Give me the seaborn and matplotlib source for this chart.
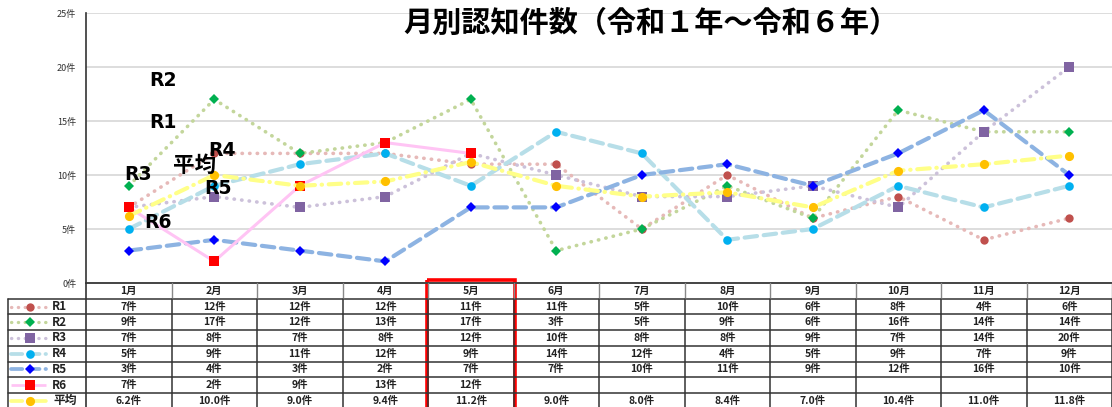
import matplotlib
matplotlib.use('Agg')

import matplotlib.pyplot as plt
import seaborn as sns
import pandas as pd
from matplotlib.lines import Line2D
from matplotlib.patches import Rectangle

months = ['1月', '2月', '3月', '4月', '5月', '6月', '7月', '8月', '9月', '10月', '11月', '12月']
r1 = [7, 12, 12, 12, 11, 11, 5, 10, 6, 8, 4, 6]
r2 = [9, 17, 12, 13, 17, 3, 5, 9, 6, 16, 14, 14]
r3 = [7, 8, 7, 8, 12, 10, 8, 8, 9, 7, 14, 20]
r4 = [5, 9, 11, 12, 9, 14, 12, 4, 5, 9, 7, 9]
r5 = [3, 4, 3, 2, 7, 7, 10, 11, 9, 12, 16, 10]
r6 = [7, 2, 9, 13, 12]
avg = [6.2, 10.0, 9.0, 9.4, 11.2, 9.0, 8.0, 8.4, 7.0, 10.4, 11.0, 11.8]
yticks = [0, 5, 10, 15, 20, 25]
title = '月別認知件数（令和１年～令和６年）'

names = ['R1', 'R2', 'R3', 'R4', 'R5', 'R6', '平均']
values = [r1, r2, r3, r4, r5, r6, avg]

# look of every series: line colour, marker colour, marker, dashes, line width, marker size
styles = {
    'R1': dict(lc='#e6b9b8', mc='#c0504d', m='o', ls=(0, (0.1, 2.0)), lw=2.6, ms=6.0),
    'R2': dict(lc='#c3d69b', mc='#00b050', m='D', ls=(0, (0.1, 2.0)), lw=2.6, ms=4.6),
    'R3': dict(lc='#ccc1da', mc='#8064a2', m='s', ls=(0, (0.1, 2.0)), lw=2.6, ms=6.6),
    'R4': dict(lc='#b7dee8', mc='#00b0f0', m='o', ls=(0, (3.0, 1.6)), lw=3.0, ms=6.2),
    'R5': dict(lc='#8db3e2', mc='#0000ff', m='D', ls=(0, (3.0, 1.6)), lw=3.0, ms=4.6),
    'R6': dict(lc='#ffc4f4', mc='#ff0000', m='s', ls='-', lw=2.2, ms=6.6),
    '平均': dict(lc='#ffff88', mc='#ffc000', m='o', ls=(0, (3.0, 1.6, 0.1, 1.6)), lw=3.0, ms=6.6),
}

sns.set_style('white')
plt.rcParams['font.family'] = ['Noto Sans CJK JP', 'DejaVu Sans']

W, H = 1112, 407
fig = plt.figure(figsize=(W / 100, H / 100), dpi=100)

# plot area in pixels
px0, px1 = 86, 1112
py_top, py_bot = 13, 283
ax = fig.add_axes([px0 / W, 1 - py_bot / H, (px1 - px0) / W, (py_bot - py_top) / H])

for name, vals in zip(names, values):
    st = styles[name]
    df = pd.DataFrame({'x': range(len(vals)), 'y': vals})
    sns.lineplot(data=df, x='x', y='y', ax=ax, color=st['lc'], linewidth=st['lw'],
                 linestyle=st['ls'], dash_capstyle='round', solid_capstyle='round',
                 marker=st['m'], markersize=st['ms'], markerfacecolor=st['mc'],
                 markeredgecolor=st['mc'], markeredgewidth=0, estimator=None,
                 sort=False, legend=False)

ax.set_xlim(-0.5, len(months) - 0.5)
ax.set_ylim(0, 25)
ax.set_yticks(yticks)
ax.set_yticklabels(['{}件'.format(v) for v in yticks], fontsize=6.5, color='#333333')
ax.set_xticks([])
ax.set_xlabel('')
ax.set_ylabel('')
ax.tick_params(axis='y', length=0, pad=7)
ax.yaxis.grid(True, color='#dddddd', linewidth=1.4)
ax.set_axisbelow(True)
for s in ['top', 'right', 'bottom']:
    ax.spines[s].set_visible(False)
ax.spines['left'].set_color('#333333')
ax.spines['left'].set_linewidth(1.2)

# overlay in pixel coordinates for the table, labels and title
ov = fig.add_axes([0, 0, 1, 1])
ov.set_xlim(0, W)
ov.set_ylim(H, 0)
ov.axis('off')

fig.text(651 / W, 1 - 23 / H, title, ha='center', va='center', fontsize=21,
         fontweight='bold', color='black')

# series labels inside the chart
label_pos = {'R2': (163, 80), 'R1': (163, 122), 'R4': (222, 151), '平均': (195, 165),
             'R3': (138, 175), 'R5': (218, 188), 'R6': (158, 222)}
for name in names:
    x, y = label_pos[name]
    if name == '平均':
        ov.text(x, y, name, ha='center', va='center', fontsize=15.5, fontweight='bold',
                color='black', family=['Noto Sans CJK JP'])
    else:
        ov.text(x, y, name, ha='center', va='center', fontsize=13.5, fontweight='bold',
                color='black', family=['DejaVu Sans'])

# data table
col_w = (px1 - px0) / len(months)
row_h = 15.7
tl = 8
n_rows = len(names)
bottom = py_bot + row_h * (n_rows + 1)

# header row
for i, m in enumerate(months):
    cx = px0 + col_w * (i + 0.5)
    ov.text(cx, py_bot + row_h / 2, m, ha='center', va='center', fontsize=7.5,
            fontweight='bold', color='#222222')
ov.plot([px0, px1], [py_bot, py_bot], color='#444444', lw=1.4)

for r, (name, vals) in enumerate(zip(names, values)):
    cy = py_bot + row_h * (r + 1.5)
    st = styles[name]
    for i in range(len(months)):
        if i < len(vals):
            v = vals[i]
            txt = '{:.1f}件'.format(v) if name == '平均' else '{}件'.format(v)
            ov.text(px0 + col_w * (i + 0.5), cy, txt, ha='center', va='center',
                    fontsize=7.5, fontweight='bold', color='#222222')
    # legend key
    ov.add_line(Line2D([11, 46], [cy, cy], color=st['lc'], lw=st['lw'] * 0.9,
                       linestyle=st['ls'], dash_capstyle='round', solid_capstyle='butt'))
    ov.add_line(Line2D([30], [cy], marker=st['m'], markersize=st['ms'], color=st['mc'],
                       markeredgewidth=0, linestyle='none'))
    ov.text(52 if name != '平均' else 54, cy, name, ha='left', va='center', fontsize=8.5,
            fontweight='bold', color='#222222')

# grid lines of the table
for r in range(1, n_rows + 2):
    y = py_bot + row_h * r
    ov.plot([tl, px1], [y, y], color='#333333', lw=1.1)
ov.plot([tl, tl], [py_bot + row_h, bottom], color='#333333', lw=1.1)
ov.plot([px0, px0], [py_bot, bottom], color='#333333', lw=1.2)
for i in range(1, len(months) + 1):
    x = px0 + col_w * i
    ov.plot([x, x], [py_bot, py_bot + row_h], color='#888888', lw=1.0)
    ov.plot([x, x], [py_bot + row_h, bottom], color='#333333', lw=1.1)

# red frame around May
ov.add_patch(Rectangle((px0 + col_w * 4 - 1, 280), col_w + 2, bottom - 280 + 5,
                       fill=False, edgecolor='#ff0000', lw=2.6))

plt.savefig('out.png', dpi=100)
